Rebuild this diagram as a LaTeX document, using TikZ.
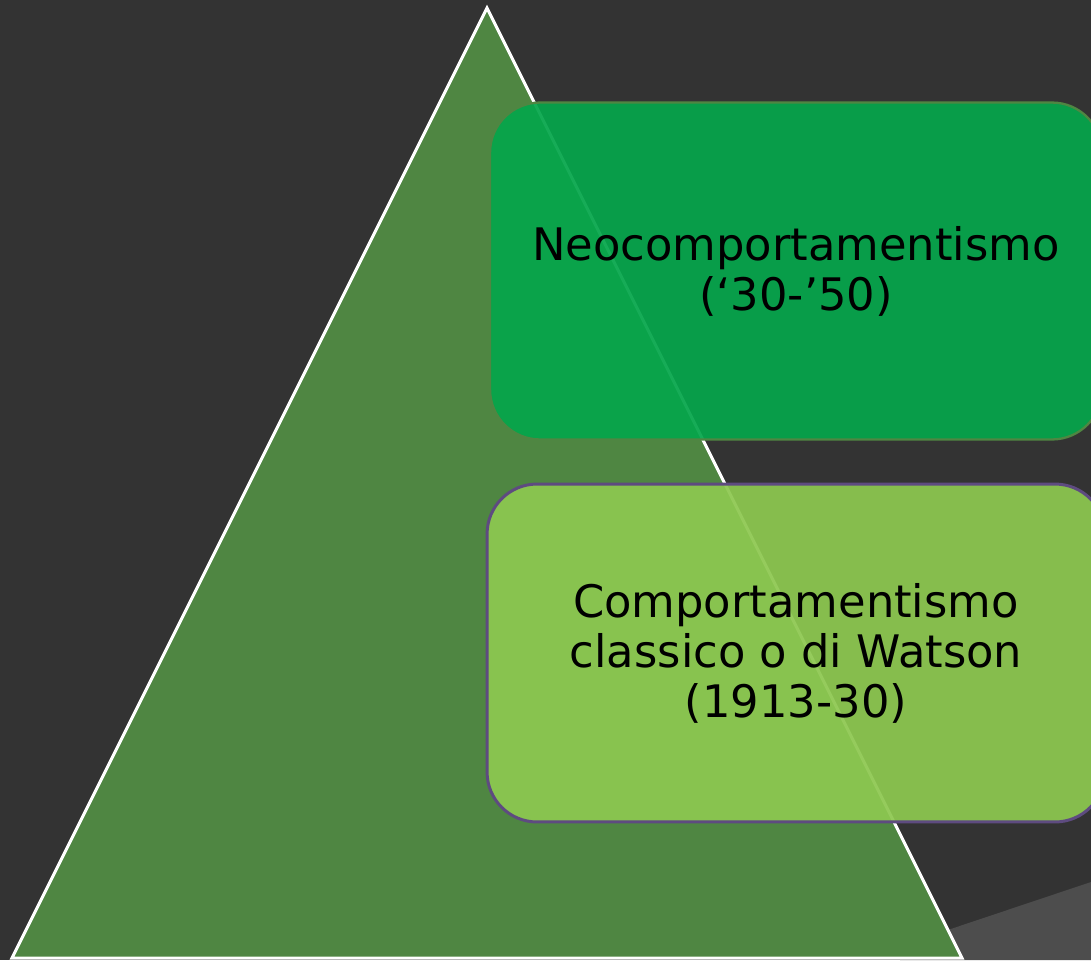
\documentclass[tikz,border=0pt]{standalone}
\usepackage{fontspec}
\setmainfont{DejaVu Sans}
\usepackage{tikz}

\definecolor{sfondo}{HTML}{333333}
\definecolor{grigio}{HTML}{4D4D4D}
\definecolor{piramide}{HTML}{4F8642}
\definecolor{verdeneo}{HTML}{05A64B}
\definecolor{verdeclassico}{HTML}{8DC850}
\definecolor{viola}{HTML}{5E4B80}

\begin{document}
\begin{tikzpicture}[x=0.02cm,y=-0.02cm,
  every node/.style={align=center, text=black, font=\fontsize{25.5}{28.5}\selectfont, inner sep=0pt},
  blocco/.style={rounded corners=1cm, fill opacity=0.93, text opacity=1}]
            \useasboundingbox (0,0) rectangle (1091,960);
            \clip (0,0) rectangle (1091,960);
            \fill[sfondo] (0,0) rectangle (1091,960);
            \fill[grigio] (900,946) -- (1091,882) -- (1091,960) -- (900,960) -- cycle;
            \draw[fill=piramide, draw=white, line width=1.7pt] (487,8) -- (962,958) -- (12,958) -- cycle;
            \node[blocco, fill=verdeneo, draw=piramide, line width=1.3pt, minimum width=12.24cm, minimum height=6.74cm] (neo) at (796,271) {Neocomportamentismo\\(‘30-’50)};
            \node[blocco, fill=verdeclassico, draw=viola, line width=1.7pt, minimum width=12.36cm, minimum height=6.76cm] (classico) at (796,653) {Comportamentismo\\classico o di Watson\\(1913-30)};
        \end{tikzpicture}
\end{document}
